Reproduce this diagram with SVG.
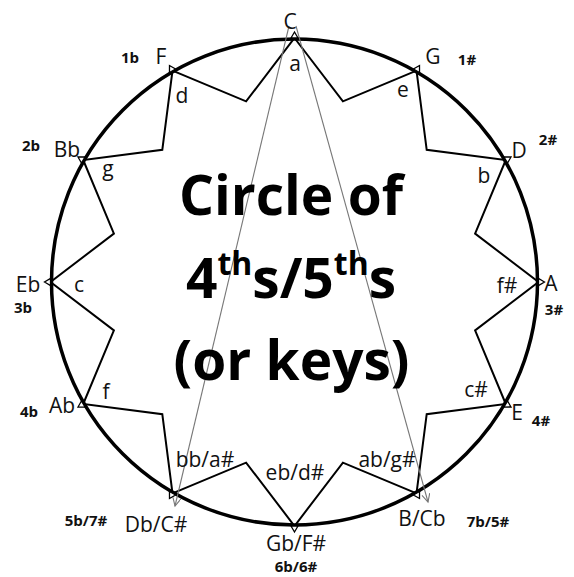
<svg xmlns="http://www.w3.org/2000/svg" xmlns:xlink="http://www.w3.org/1999/xlink" width="574" height="577" viewBox="0 0 574 577">
<style>
.maj{font-family:"Open Sans","Liberation Sans",sans-serif;font-size:21px;fill:#111;text-anchor:middle}
.min{font-family:"Open Sans","Liberation Sans",sans-serif;font-size:21px;fill:#111;text-anchor:middle}
.sig{font-family:"Open Sans","Liberation Sans",sans-serif;font-size:15px;font-weight:bold;fill:#111;text-anchor:middle}
.title{font-family:"Open Sans","Liberation Sans",sans-serif;font-size:55px;font-weight:bold;fill:#000;text-anchor:middle}
.tri{fill:#fff;stroke:#000;stroke-width:1.3}
.star{fill:none;stroke:#000;stroke-width:2;stroke-linejoin:miter}
.thin{fill:none;stroke:#777;stroke-width:1.1}
</style>
<defs>
<path id="tri" d="M0,-6 L-3.5,0 L3.5,0 Z"/>
<marker id="arr" markerWidth="10" markerHeight="10" refX="8" refY="4" orient="auto" markerUnits="userSpaceOnUse">
<path d="M0,0 L8,4 L0,8" fill="none" stroke="#777" stroke-width="1.1"/>
</marker>
</defs>
<rect width="574" height="577" fill="#fff"/>
<circle cx="294.5" cy="282" r="243" fill="none" stroke="#000" stroke-width="3.5"/>
<g id="connectors">
<polygon class="star" points="294.5,38 342.9,101.4 416.5,70.7 426.7,149.8 505.8,160 475.1,233.6 538.5,282 475.1,330.4 505.8,404 426.7,414.2 416.5,493.3 342.9,462.6 294.5,526 246.1,462.6 172.5,493.3 162.3,414.2 83.2,404 113.9,330.4 50.5,282 113.9,233.6 83.2,160 162.3,149.8 172.5,70.7 246.1,101.4"/>
<line class="thin" x1="289" y1="26" x2="175" y2="506" marker-end="url(#arr)"/>
<line class="thin" x1="296" y1="26" x2="428" y2="502" marker-end="url(#arr)"/>
</g>
<g id="key-C"><use href="#tri" class="tri" transform="translate(294.5,38)"/><text class="maj" x="290" y="29">C</text><text class="min" x="295" y="71">a</text></g>
<g id="key-G"><use href="#tri" class="tri" transform="translate(416.5,70.7) rotate(30)"/><text class="maj" x="433" y="64">G</text><text class="sig" x="467" y="65">1#</text><text class="min" x="403" y="97">e</text></g>
<g id="key-D"><use href="#tri" class="tri" transform="translate(505.8,160) rotate(60)"/><text class="maj" x="519" y="158">D</text><text class="sig" x="548" y="145">2#</text><text class="min" x="484" y="183">b</text></g>
<g id="key-A"><use href="#tri" class="tri" transform="translate(538.5,282) rotate(90)"/><text class="maj" x="551" y="291">A</text><text class="sig" x="554" y="315">3#</text><text class="min" x="507" y="293">f#</text></g>
<g id="key-E"><use href="#tri" class="tri" transform="translate(505.8,404) rotate(120)"/><text class="maj" x="517" y="420">E</text><text class="sig" x="541" y="426">4#</text><text class="min" x="476" y="397">c#</text></g>
<g id="key-B"><use href="#tri" class="tri" transform="translate(416.5,493.3) rotate(150)"/><text class="maj" x="422" y="526">B/Cb</text><text class="sig" x="488" y="527">7b/5#</text><text class="min" x="387" y="467">ab/g#</text></g>
<g id="key-Gb"><use href="#tri" class="tri" transform="translate(294.5,526) rotate(180)"/><text class="maj" x="296" y="551">Gb/F#</text><text class="sig" x="296" y="572">6b/6#</text><text class="min" x="295" y="480">eb/d#</text></g>
<g id="key-Db"><use href="#tri" class="tri" transform="translate(172.5,493.3) rotate(210)"/><text class="maj" x="156" y="532">Db/C#</text><text class="sig" x="86" y="526">5b/7#</text><text class="min" x="205" y="467">bb/a#</text></g>
<g id="key-Ab"><use href="#tri" class="tri" transform="translate(83.2,404) rotate(240)"/><text class="maj" x="62" y="413">Ab</text><text class="sig" x="29" y="417">4b</text><text class="min" x="106" y="399">f</text></g>
<g id="key-Eb"><use href="#tri" class="tri" transform="translate(50.5,282) rotate(270)"/><text class="maj" x="28" y="292">Eb</text><text class="sig" x="23" y="313">3b</text><text class="min" x="79" y="292">c</text></g>
<g id="key-Bb"><use href="#tri" class="tri" transform="translate(83.2,160) rotate(300)"/><text class="maj" x="67" y="157">Bb</text><text class="sig" x="31" y="151">2b</text><text class="min" x="108" y="176">g</text></g>
<g id="key-F"><use href="#tri" class="tri" transform="translate(172.5,70.7) rotate(330)"/><text class="maj" x="161" y="64">F</text><text class="sig" x="130" y="63">1b</text><text class="min" x="182" y="103">d</text></g>
<g id="title">
<text class="title" x="291" y="215">Circle of</text>
<text class="title" x="291" y="298">4<tspan font-size="32" dy="-23">th</tspan><tspan dy="23">s/5</tspan><tspan font-size="32" dy="-23">th</tspan><tspan dy="23">s</tspan></text>
<text class="title" x="291.5" y="380">(or keys)</text>
</g>
</svg>
